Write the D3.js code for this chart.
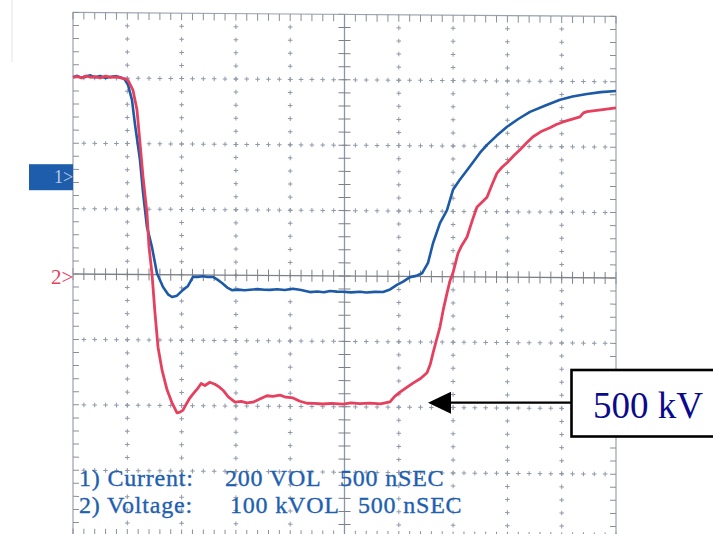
<!DOCTYPE html>
<html><head><meta charset="utf-8">
<script src="https://cdn.jsdelivr.net/npm/d3@7"></script>
<style>body{margin:0;background:#fff}svg{display:block}</style>
</head><body>
<svg id="c" width="713" height="534"></svg>
<script>
// ---- data: time in ns, amplitude in screen divisions ----
const currentTrace = [[0,3.01],[40,3.03],[80,3.00],[120,3.02],[160,3.04],[200,3.01],[250,3.03],[300,3.00],[350,3.02],[400,3.03],[440,3.01],[470,2.99],[480,2.97],[506,2.90],[543,2.67],[571,2.29],[617,1.75],[645,1.25],[681,0.73],[727,0.42],[773,0.02],[829,-0.19],[875,-0.30],[912,-0.34],[958,-0.32],[1013,-0.23],[1059,-0.17],[1105,-0.03],[1150,-0.03],[1197,-0.02],[1240,-0.03],[1289,-0.03],[1330,-0.07],[1372,-0.12],[1420,-0.19],[1464,-0.23],[1520,-0.22],[1580,-0.23],[1630,-0.22],[1700,-0.21],[1760,-0.22],[1814,-0.22],[1880,-0.21],[1950,-0.22],[2026,-0.20],[2100,-0.22],[2182,-0.25],[2250,-0.24],[2310,-0.25],[2367,-0.23],[2430,-0.24],[2486,-0.24],[2560,-0.25],[2643,-0.24],[2700,-0.25],[2780,-0.24],[2855,-0.24],[2920,-0.20],[2983,-0.13],[3040,-0.08],[3103,-0.01],[3160,0.01],[3214,0.05],[3269,0.21],[3315,0.51],[3379,0.82],[3444,1.02],[3499,1.33],[3560,1.48],[3628,1.63],[3690,1.77],[3748,1.90],[3812,2.02],[3900,2.16],[3997,2.30],[4100,2.42],[4208,2.53],[4350,2.63],[4485,2.72],[4600,2.77],[4733,2.81],[4860,2.84],[5000,2.86]];
const voltageTrace = [[0,3.01],[40,3.02],[80,3.00],[120,3.03],[160,3.01],[200,3.02],[250,3.00],[300,3.03],[350,3.01],[400,3.02],[450,3.00],[480,2.99],[506,2.97],[552,2.82],[589,2.52],[617,2.01],[645,1.49],[681,0.94],[700,0.42],[727,0.02],[755,-0.59],[783,-1.11],[820,-1.46],[866,-1.76],[912,-1.96],[958,-2.11],[985,-2.10],[1013,-2.07],[1045,-1.97],[1077,-1.88],[1115,-1.80],[1151,-1.73],[1180,-1.66],[1215,-1.69],[1260,-1.64],[1307,-1.67],[1345,-1.71],[1381,-1.76],[1430,-1.86],[1492,-1.94],[1550,-1.93],[1600,-1.95],[1657,-1.94],[1720,-1.89],[1786,-1.84],[1840,-1.85],[1906,-1.83],[1960,-1.86],[2026,-1.87],[2090,-1.92],[2155,-1.95],[2220,-1.95],[2300,-1.96],[2380,-1.95],[2486,-1.96],[2560,-1.94],[2640,-1.95],[2735,-1.94],[2830,-1.95],[2919,-1.92],[2960,-1.84],[3011,-1.77],[3070,-1.70],[3131,-1.63],[3200,-1.56],[3260,-1.47],[3290,-1.34],[3315,-1.17],[3345,-0.98],[3379,-0.77],[3410,-0.50],[3444,-0.25],[3470,-0.07],[3499,0.06],[3545,0.36],[3580,0.48],[3628,0.61],[3680,0.88],[3720,1.07],[3770,1.15],[3812,1.22],[3860,1.42],[3904,1.59],[3950,1.68],[3997,1.75],[4060,1.86],[4116,1.95],[4180,2.06],[4236,2.15],[4310,2.23],[4392,2.29],[4450,2.34],[4512,2.38],[4590,2.42],[4668,2.46],[4700,2.52],[4733,2.54],[4860,2.57],[5000,2.60]];
const timeDomain = [0, 5000];
const divDomain = [-4, 4];
const legendLabels = ["1) Current:", "2) Voltage:"];
const legendScales = ["200 VOL", "100 kVOL"];
const legendTimes = ["500 nSEC", "500 nSEC"];
const channelMarkers = [{label:"1>", level:1.48}, {label:"2>", level:0}];
const annotationText = "500 kV";
const annotationLevel = -1.96;

// ---- drawing ----
const svg = d3.select("#c");
const x = d3.scaleLinear().domain(timeDomain).range([73, 616]);
const y = d3.scaleLinear().domain(divDomain).range([535.6, 12.4]);
const skew = 0.42;
const k = Math.tan(skew * Math.PI / 180);

// faint scan line at left
svg.append("line").attr("x1",12).attr("x2",12).attr("y1",0).attr("y2",62)
  .attr("stroke","#e2e4e8").attr("stroke-width",1);

const g = svg.append("g").attr("transform", `translate(0,${-73*k}) skewY(${skew})`);

const xMinor = d3.range(timeDomain[0], timeDomain[1] + 1, 100);
const yMinor = d3.range(0, 41).map(i => divDomain[0] + i * 0.2);
const xMajor = d3.range(500, 5000, 500).filter(t => t !== 2500);
const yMajor = [-3, -2, -1, 1, 2, 3];
const crossCol = "#8f99aa";
const cs = 2.3;

function cross(px, py) {
  g.append("line").attr("x1", px - cs).attr("x2", px + cs).attr("y1", py).attr("y2", py)
    .attr("stroke", crossCol).attr("stroke-width", 1);
  g.append("line").attr("x1", px).attr("x2", px).attr("y1", py - cs).attr("y2", py + cs)
    .attr("stroke", crossCol).attr("stroke-width", 1);
}
xMajor.forEach(t => yMinor.slice(1, -1).forEach(v => cross(x(t), y(v))));
yMajor.forEach(v => xMinor.slice(1, -1).forEach(t => cross(x(t), y(v))));

// center axes
const axCol = "#7d8088";
g.append("line").attr("x1", x(0)).attr("x2", x(5000)).attr("y1", y(0)).attr("y2", y(0))
  .attr("stroke", axCol).attr("stroke-width", 1.3);
g.append("line").attr("x1", x(2500)).attr("x2", x(2500)).attr("y1", y(4)).attr("y2", y(-4))
  .attr("stroke", "#8a97ab").attr("stroke-width", 1.3);
xMinor.forEach(t => g.append("line").attr("x1", x(t)).attr("x2", x(t))
  .attr("y1", y(0) - 6).attr("y2", y(0) + 6).attr("stroke", axCol).attr("stroke-width", 1));
yMinor.forEach(v => g.append("line").attr("x1", x(2500) - 6).attr("x2", x(2500) + 6)
  .attr("y1", y(v)).attr("y2", y(v)).attr("stroke", axCol).attr("stroke-width", 1));

// frame
g.append("rect").attr("x", x(0)).attr("y", y(4)).attr("width", x(5000) - x(0)).attr("height", y(-4) - y(4))
  .attr("fill", "none").attr("stroke", "#9aa2ae").attr("stroke-width", 1.2);
xMinor.forEach(t => {
  g.append("line").attr("x1", x(t)).attr("x2", x(t)).attr("y1", y(4)).attr("y2", y(4) + 7)
    .attr("stroke", "#8a8f98").attr("stroke-width", 1);
  g.append("line").attr("x1", x(t)).attr("x2", x(t)).attr("y1", y(-4)).attr("y2", y(-4) - 7)
    .attr("stroke", "#8a8f98").attr("stroke-width", 1);
});
yMinor.forEach(v => {
  g.append("line").attr("x1", x(0)).attr("x2", x(0) + 6).attr("y1", y(v)).attr("y2", y(v))
    .attr("stroke", "#8a8f98").attr("stroke-width", 1);
  g.append("line").attr("x1", x(5000)).attr("x2", x(5000) - 6).attr("y1", y(v)).attr("y2", y(v))
    .attr("stroke", "#8a8f98").attr("stroke-width", 1);
});

// traces
const line = d3.line().x(d => x(d[0])).y(d => y(d[1]));
g.append("path").datum(currentTrace).attr("d", line).attr("fill", "none")
  .attr("stroke", "#1c5aa8").attr("stroke-width", 2.6).attr("stroke-linejoin", "round");
g.append("path").datum(voltageTrace).attr("d", line).attr("fill", "none")
  .attr("stroke", "#e6405f").attr("stroke-width", 2.8).attr("stroke-linejoin", "round");

// channel markers
const m1 = channelMarkers[0];
svg.append("rect").attr("x", 29).attr("y", y(m1.level) - 13).attr("width", x(0) - 29).attr("height", 26)
  .attr("fill", "#1d5dab");
svg.append("text").attr("x", 54).attr("y", y(m1.level) + 6).text(m1.label)
  .attr("font-family", "Liberation Serif, serif").attr("font-size", 18).attr("fill", "#b9c9e6");
const m2 = channelMarkers[1];
svg.append("text").attr("x", 51).attr("y", y(m2.level) + 10).text(m2.label)
  .attr("font-family", "Liberation Serif, serif").attr("font-size", 21).attr("fill", "#e6405f");

// legend text
const legendY = [486, 513];
const scaleX = [225, 230];
const timeX = [340, 358];
legendLabels.forEach((s, i) => {
  const f = t => t.attr("font-family", "Liberation Serif, serif").attr("font-size", 24)
    .attr("letter-spacing", 0.8).attr("fill", "#1f5fb0")
    .attr("stroke", "#1f5fb0").attr("stroke-width", 0.35);
  f(svg.append("text").attr("x", 79).attr("y", legendY[i]).text(s));
  f(svg.append("text").attr("x", scaleX[i]).attr("y", legendY[i]).text(legendScales[i]));
  f(svg.append("text").attr("x", timeX[i]).attr("y", legendY[i]).text(legendTimes[i]));
});

// annotation
const ay = y(annotationLevel) + 0.5;
svg.append("line").attr("x1", 449).attr("x2", 572).attr("y1", ay).attr("y2", ay)
  .attr("stroke", "#000").attr("stroke-width", 2.2);
svg.append("path").attr("d", `M428,${ay} L451,${ay - 11} L451,${ay + 11} Z`).attr("fill", "#000");
svg.append("rect").attr("x", 571.5).attr("y", 370).attr("width", 150).attr("height", 66.5)
  .attr("fill", "#fff").attr("stroke", "#000").attr("stroke-width", 2.6);
svg.append("text").attr("x", 593).attr("y", 418).text(annotationText)
  .attr("font-family", "Liberation Serif, serif").attr("font-size", 37).attr("fill", "#0a0a8c");
</script>
</body></html>
